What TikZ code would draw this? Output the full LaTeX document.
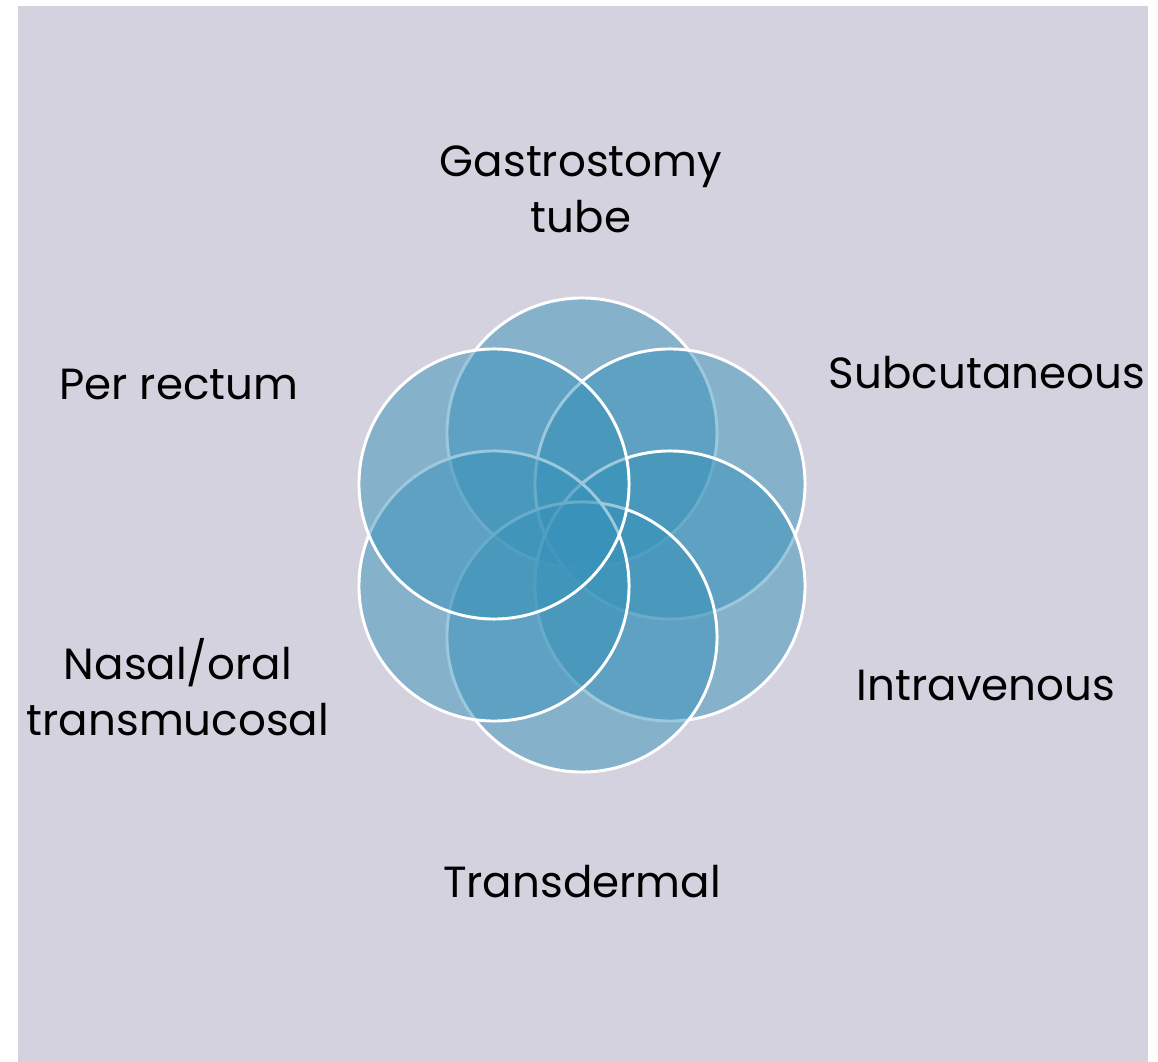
\documentclass[tikz,border=0pt]{standalone}
\usepackage{fontspec}
\setmainfont{Poppins}
\usepackage{xcolor}
\usepackage{tikz}
\definecolor{panelgray}{RGB}{212,210,222}
\definecolor{routeblue}{RGB}{56,146,186}

\begin{document}
\begin{tikzpicture}[x=0.025cm, y=-0.025cm, font=\fontsize{31}{40}\selectfont,
    petal/.style={circle, draw=white, line width=2.1pt, fill=routeblue,
      fill opacity=0.5, draw opacity=1, minimum size=6.75cm, inner sep=0pt},
    route/.style={align=center, text=black, inner sep=0pt}]
\useasboundingbox (0,0) rectangle (1158,1062);
\fill[panelgray] (18,6) rectangle (1148,1062);
% six overlapping circles, drawn clockwise from the top
\node[petal] (gtube) at (582,433) {};
\node[petal] (subcut) at (670,484) {};
\node[petal] (ivein) at (670,586) {};
\node[petal] (tderm) at (582,637) {};
\node[petal] (nasal) at (494,586) {};
\node[petal] (rectum) at (494,484) {};
% route labels
\node[route] (gtubelabel) at (581,189) {Gastrostomy\\tube};
\node[route] (subcutlabel) at (987,373) {Subcutaneous};
\node[route] (rectumlabel) at (179,385) {Per rectum};
\node[route] (iveinlabel) at (986,686) {Intravenous};
\node[route] (nasallabel) at (178,687) {Nasal/oral\\transmucosal};
\node[route] (tdermlabel) at (582,882) {Transdermal};
\end{tikzpicture}
\end{document}
